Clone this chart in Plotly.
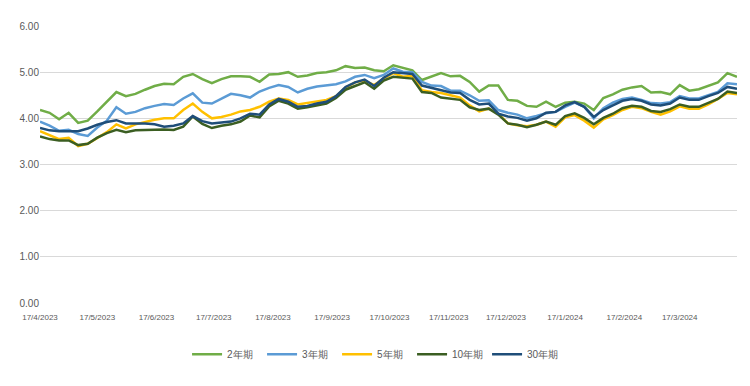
import pandas as pd
import plotly.graph_objects as go

start_date = "2023-04-17"
step_days = 5

y2 = [4.18, 4.12, 3.98, 4.12, 3.90, 3.95, 4.15, 4.35, 4.57, 4.48, 4.53, 4.62, 4.70, 4.75, 4.74, 4.90,
      4.96, 4.85, 4.76, 4.85, 4.91, 4.91, 4.90, 4.79, 4.95, 4.96, 5.00, 4.90, 4.93, 4.98, 5.00, 5.04,
      5.13, 5.09, 5.10, 5.04, 5.02, 5.15, 5.09, 5.04, 4.83, 4.90, 4.98, 4.91, 4.92, 4.79, 4.58, 4.71,
      4.71, 4.40, 4.38, 4.27, 4.25, 4.36, 4.25, 4.34, 4.36, 4.32, 4.18, 4.44, 4.52, 4.62, 4.67, 4.70,
      4.56, 4.57, 4.52, 4.72, 4.60, 4.63, 4.70, 4.78, 4.98, 4.90]
y3 = [3.93, 3.84, 3.73, 3.75, 3.66, 3.62, 3.80, 3.95, 4.24, 4.10, 4.14, 4.22, 4.27, 4.31, 4.29, 4.43,
      4.54, 4.34, 4.32, 4.42, 4.53, 4.50, 4.45, 4.58, 4.66, 4.72, 4.68, 4.56, 4.64, 4.69, 4.71, 4.74,
      4.80, 4.90, 4.94, 4.87, 4.94, 5.08, 5.01, 5.00, 4.79, 4.71, 4.70, 4.60, 4.60, 4.50, 4.38, 4.39,
      4.18, 4.12, 4.08, 4.00, 4.05, 4.11, 4.14, 4.25, 4.34, 4.25, 4.00, 4.22, 4.34, 4.42, 4.45, 4.40,
      4.33, 4.32, 4.35, 4.48, 4.43, 4.43, 4.50, 4.57, 4.76, 4.74]
y5 = [3.72, 3.64, 3.55, 3.58, 3.40, 3.45, 3.58, 3.70, 3.87, 3.78, 3.87, 3.92, 3.97, 4.00, 4.00, 4.18,
      4.32, 4.14, 4.00, 4.03, 4.08, 4.15, 4.18, 4.25, 4.36, 4.43, 4.40, 4.30, 4.33, 4.37, 4.40, 4.48,
      4.66, 4.78, 4.82, 4.72, 4.86, 4.98, 4.90, 4.92, 4.61, 4.57, 4.55, 4.50, 4.45, 4.28, 4.15, 4.21,
      4.10, 3.89, 3.85, 3.83, 3.86, 3.93, 3.82, 4.02, 4.07, 3.95, 3.80, 3.98, 4.07, 4.18, 4.25, 4.22,
      4.14, 4.08, 4.15, 4.26, 4.21, 4.21, 4.30, 4.42, 4.55, 4.52]
y10 = [3.61, 3.55, 3.52, 3.52, 3.42, 3.45, 3.58, 3.68, 3.75, 3.70, 3.74, 3.75, 3.75, 3.76, 3.75, 3.82,
       4.04, 3.88, 3.79, 3.84, 3.87, 3.93, 4.06, 4.02, 4.26, 4.38, 4.32, 4.21, 4.24, 4.28, 4.32, 4.44,
       4.62, 4.70, 4.78, 4.64, 4.82, 4.90, 4.88, 4.86, 4.57, 4.55, 4.45, 4.42, 4.40, 4.24, 4.18, 4.21,
       4.08, 3.89, 3.86, 3.81, 3.86, 3.93, 3.86, 4.05, 4.11, 4.01, 3.87, 4.01, 4.10, 4.22, 4.27, 4.25,
       4.16, 4.14, 4.20, 4.30, 4.25, 4.25, 4.33, 4.42, 4.58, 4.55]
y30 = [3.79, 3.74, 3.72, 3.72, 3.72, 3.78, 3.86, 3.92, 3.96, 3.89, 3.89, 3.89, 3.87, 3.82, 3.84, 3.89,
       4.05, 3.94, 3.89, 3.91, 3.93, 4.00, 4.10, 4.08, 4.30, 4.42, 4.36, 4.25, 4.27, 4.32, 4.36, 4.48,
       4.68, 4.78, 4.84, 4.70, 4.88, 5.00, 4.98, 4.96, 4.71, 4.66, 4.60, 4.56, 4.55, 4.40, 4.30, 4.32,
       4.10, 4.04, 4.01, 3.95, 4.00, 4.12, 4.14, 4.28, 4.35, 4.25, 4.03, 4.18, 4.28, 4.38, 4.42, 4.38,
       4.30, 4.28, 4.32, 4.45, 4.40, 4.40, 4.48, 4.55, 4.68, 4.64]

series_names = ["2年期", "3年期", "5年期", "10年期", "30年期"]
series_values = [y2, y3, y5, y10, y30]
series_colors = ["#70AD47", "#5B9BD5", "#FFC000", "#3B5E22", "#1F4E79"]

tick_dates = ["2023-04-17", "2023-05-17", "2023-06-17", "2023-07-17", "2023-08-17", "2023-09-17",
              "2023-10-17", "2023-11-17", "2023-12-17", "2024-01-17", "2024-02-17", "2024-03-17"]
tick_labels = ["17/4/2023", "17/5/2023", "17/6/2023", "17/7/2023", "17/8/2023", "17/9/2023",
               "17/10/2023", "17/11/2023", "17/12/2023", "17/1/2024", "17/2/2024", "17/3/2024"]
y_ticks = [0, 1, 2, 3, 4, 5, 6]

dates = pd.date_range(start_date, periods=len(y2), freq=f"{step_days}D")

fig = go.Figure()
for name, vals, col in zip(series_names, series_values, series_colors):
    fig.add_trace(go.Scatter(x=dates, y=vals, name=name, mode="lines",
                             line=dict(color=col, width=2.5)))

fig.update_layout(
    width=750, height=386,
    margin=dict(l=26, r=21, t=14, b=91),
    paper_bgcolor="white", plot_bgcolor="white",
    font=dict(family="Liberation Sans Narrow, Liberation Sans, Arial", color="#595959", size=9),
    showlegend=True,
    legend=dict(orientation="h", x=0.48, xanchor="center", y=-0.185, yanchor="middle",
                font=dict(size=10, color="#595959"), itemwidth=30, tracegroupgap=0,
                entrywidth=30, entrywidthmode="pixels"),
    xaxis=dict(range=[dates[0], dates[-1]], tickvals=tick_dates, ticktext=tick_labels,
               showgrid=False, showline=False, zeroline=False,
               ticks="outside", ticklen=6, tickcolor="rgba(0,0,0,0)",
               tickfont=dict(size=8, color="#595959"), tickangle=0),
    yaxis=dict(range=[0, 6], tickvals=y_ticks, tickformat=".2f",
               showgrid=True, gridcolor="#D9D9D9", gridwidth=1.2, zeroline=False,
               showline=False, ticks="", tickfont=dict(size=10, color="#595959")),
)

fig.write_html("out.html")
